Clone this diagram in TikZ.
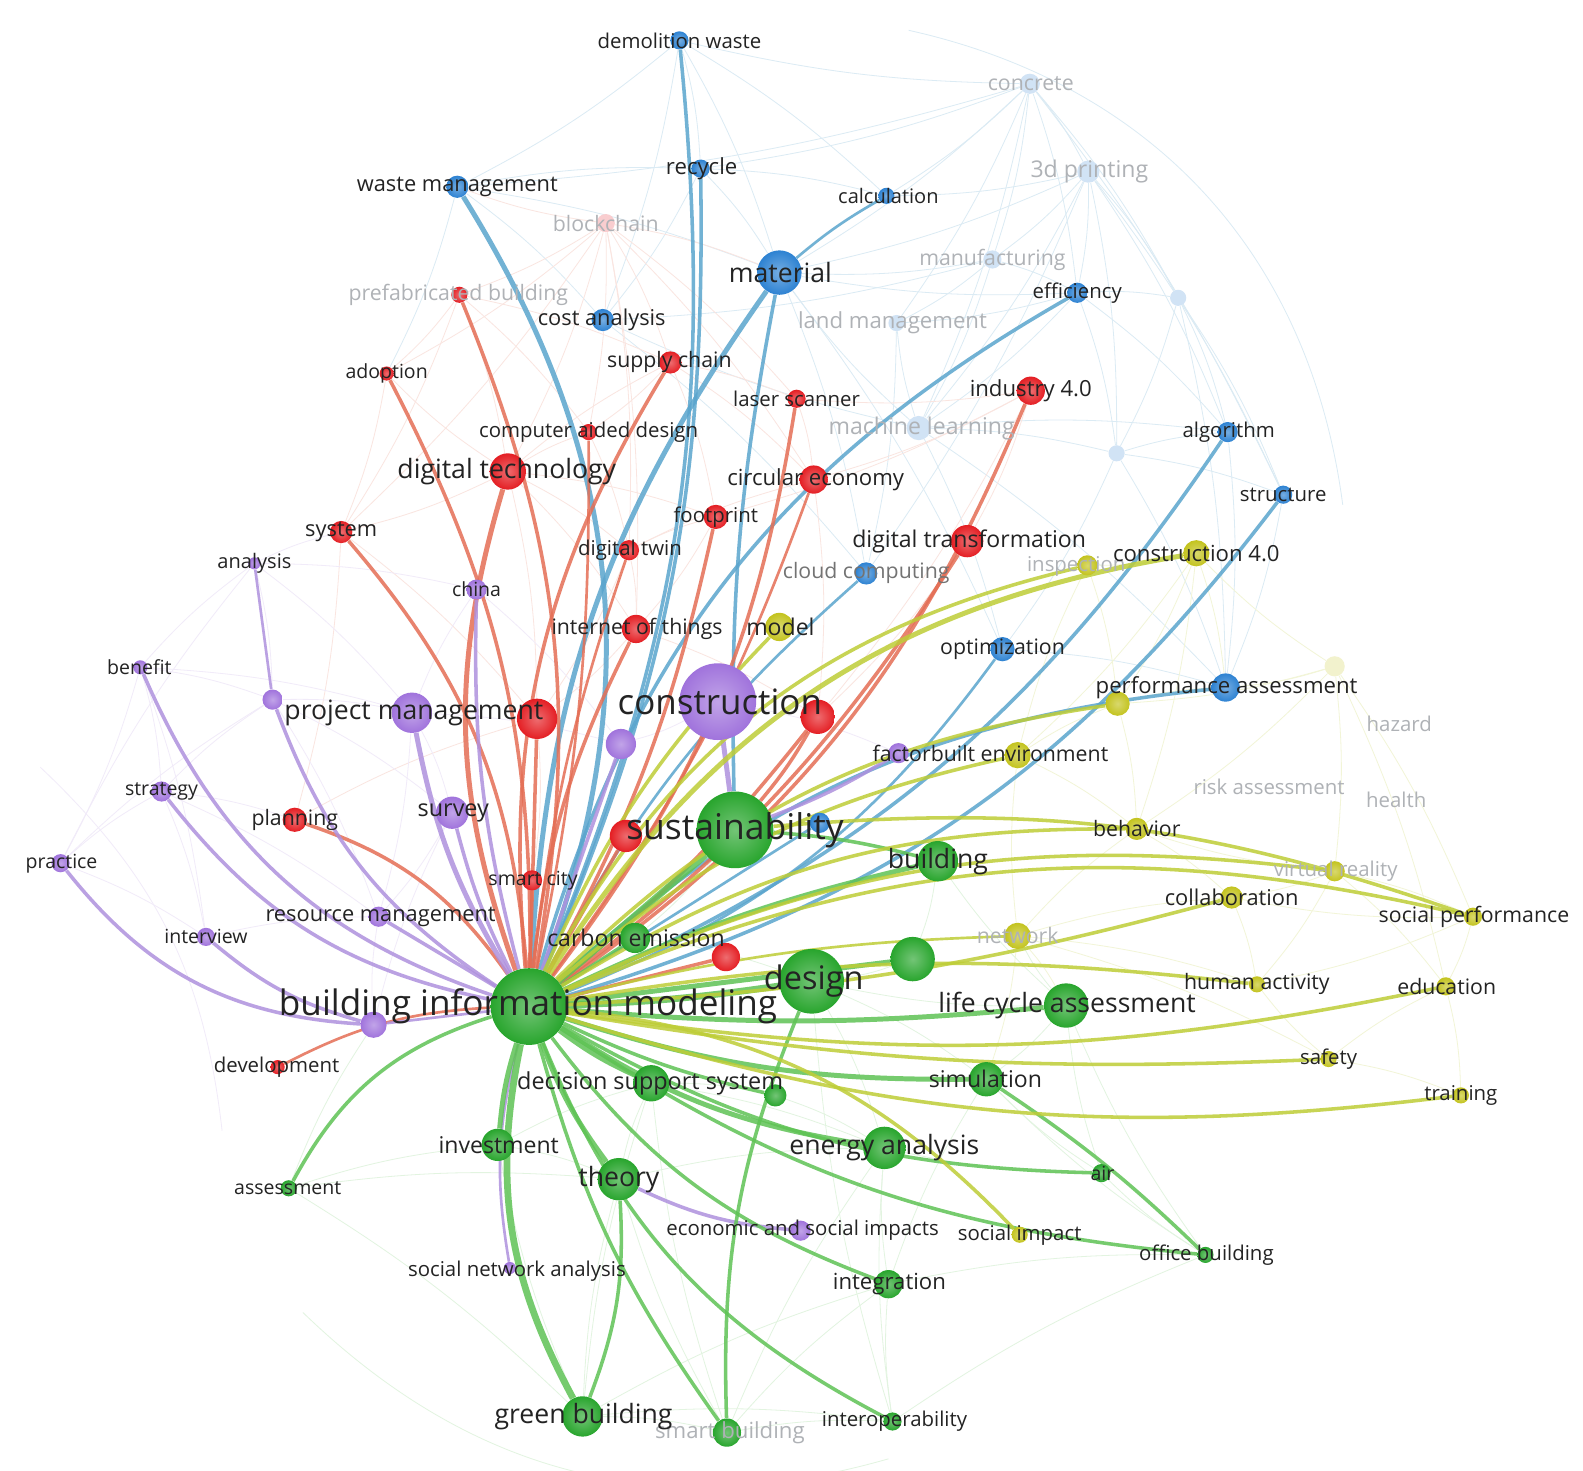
\documentclass[tikz,border=0pt]{standalone}
\usepackage{fontspec}
\setmainfont{Open Sans}
\pgfdeclarelayer{faint}\pgfdeclarelayer{bg}\pgfsetlayers{faint,bg,main}
\definecolor{cB}{RGB}{45,130,210}
\definecolor{cR}{RGB}{228,30,35}
\definecolor{cG}{RGB}{40,165,45}
\definecolor{cP}{RGB}{160,115,220}
\definecolor{cY}{RGB}{195,195,30}
\definecolor{lB}{RGB}{90,165,205}
\definecolor{lR}{RGB}{228,110,85}
\definecolor{lG}{RGB}{95,195,85}
\definecolor{lP}{RGB}{175,145,222}
\definecolor{lY}{RGB}{190,205,55}
\definecolor{txt}{RGB}{35,35,35}
\definecolor{fadetxt}{RGB}{175,178,182}
\tikzset{
  kdot/.style 2 args={circle,inner sep=0pt,minimum size={#1*0.04cm},shading=radial,inner color=#2!65!white,outer color=#2},
  kfade/.style 2 args={circle,inner sep=0pt,minimum size={#1*0.04cm},fill=#2!22!white},
  lab/.style={inner sep=0pt,text=txt},
  faded/.style={text=fadetxt},
  fB/.style={draw=lB!22!white,line width=0.45pt},
  fR/.style={draw=lR!18!white,line width=0.45pt},
  fP/.style={draw=lP!18!white,line width=0.45pt},
  fY/.style={draw=lY!20!white,line width=0.45pt},
  fG/.style={draw=lG!18!white,line width=0.45pt},
  eB/.style={draw=lB,opacity=0.85},
  eR/.style={draw=lR,opacity=0.85},
  eG/.style={draw=lG,opacity=0.85},
  eY/.style={draw=lY,opacity=0.85},
  eP/.style={draw=lP,opacity=0.85},
}
\newcommand\kd[5]{\node[kdot={#4}{#5}] (#1) at (#2,#3) {};}
\newcommand\kf[5]{\node[kfade={#4}{#5}] (#1) at (#2,#3) {};}
\newcommand\kl[6]{\node[lab,font=\fontsize{#4}{#4}\selectfont,#5] (#1-l) at (#2,#3) {#6};}
\newcommand\E[5]{\draw[#1,line width=#2] (#3) to[#5] (#4);}
\begin{document}
\begin{tikzpicture}[x=0.02cm,y=-0.02cm]
\begin{pgfonlayer}{faint}
\fill[white] (0,0) rectangle (1568,1457);
\end{pgfonlayer}
\useasboundingbox (0,0) rectangle (1568,1457);
% ---------------- dots: blue
\kd{dw}{673}{40}{9}{cB}
\kd{rec}{694}{167}{9}{cB}
\kd{wm}{453}{185}{11}{cB}
\kd{calc}{878}{194}{8}{cB}
\kd{mat}{772}{270}{22}{cB}
\kd{cost}{597}{317}{11}{cB}
\kd{eff}{1067}{290}{10}{cB}
\kd{alg}{1216}{428}{10}{cB}
\kd{str}{1271}{490}{9}{cB}
\kd{cloud}{858}{568}{11}{cB}
\kd{opt}{993}{643}{12}{cB}
\kd{pa}{1214}{681}{14}{cB}
\kd{bl1}{812}{815}{10}{cB}
\kf{conc}{1020}{83}{10}{cB}
\kf{tdp}{1078}{170}{11}{cB}
\kf{manu}{983}{257}{9}{cB}
\kf{land}{888}{320}{8}{cB}
\kf{ml}{910}{424}{12}{cB}
\kf{fb1}{1167}{295}{8}{cB}
\kf{fb2}{1106}{449}{8}{cB}
% red
\kf{blk}{600}{221}{9}{cR}
\kd{pref}{455}{292}{8}{cR}
\kd{sup}{664}{359}{11}{cR}
\kd{adop}{383}{370}{7}{cR}
\kd{laser}{789}{395}{9}{cR}
\kd{cad}{583}{428}{8}{cR}
\kd{ind}{1021}{387}{14}{cR}
\kd{dt}{503}{467}{18}{cR}
\kd{ce}{806}{475}{14}{cR}
\kd{fp}{709}{512}{12}{cR}
\kd{sys}{338}{527}{11}{cR}
\kd{twin}{623}{545}{10}{cR}
\kd{dtr}{958}{536}{16}{cR}
\kd{iot}{630}{623}{14}{cR}
\kd{r1}{532}{712}{20}{cR}
\kd{r2}{810}{710}{17}{cR}
\kd{r3}{620}{828}{16}{cR}
\kd{city}{527}{872}{10}{cR}
\kd{r4}{719}{948}{14}{cR}
\kd{plan}{292}{812}{12}{cR}
\kd{dev}{275}{1057}{7}{cR}
% purple
\kd{ana}{252}{558}{6}{cP}
\kd{china}{472}{584}{10}{cP}
\kd{ben}{139}{661}{7}{cP}
\kd{p1}{270}{693}{10}{cP}
\kd{pm}{408}{706}{20}{cP}
\kd{cons}{711}{695}{38}{cP}
\kd{p2}{615}{737}{15}{cP}
\kd{fac}{890}{746}{10}{cP}
\kd{strat}{160}{784}{10}{cP}
\kd{surv}{448}{805}{16}{cP}
\kd{prac}{60}{855}{9}{cP}
\kd{intv}{204}{928}{9}{cP}
\kd{rm}{375}{908}{10}{cP}
\kd{p3}{370}{1015}{13}{cP}
\kd{esi}{793}{1219}{10}{cP}
\kd{sna}{505}{1256}{6}{cP}
% green
\kd{sust}{728}{822}{38}{cG}
\kd{bldg}{929}{853}{20}{cG}
\kd{carb}{629}{929}{15}{cG}
\kd{g1}{904}{950}{22}{cG}
\kd{des}{804}{972}{32}{cG}
\kd{bim}{524}{997}{38}{cG}
\kd{lca}{1056}{996}{22}{cG}
\kd{dss}{645}{1073}{18}{cG}
\kd{g2}{768}{1085}{11}{cG}
\kd{sim}{977}{1069}{17}{cG}
\kd{inv}{493}{1134}{16}{cG}
\kd{ea}{876}{1137}{21}{cG}
\kd{thy}{613}{1168}{21}{cG}
\kd{air}{1091}{1162}{9}{cG}
\kd{asmt}{286}{1177}{8}{cG}
\kd{integ}{880}{1272}{14}{cG}
\kd{office}{1194}{1243}{8}{cG}
\kd{gb}{577}{1403}{20}{cG}
\kd{sb}{720}{1419}{14}{cG}
\kd{interop}{884}{1408}{9}{cG}
% yellow
\kd{insp}{1077}{560}{10}{cY}
\kd{c40}{1185}{548}{13}{cY}
\kd{model}{772}{621}{14}{cY}
\kf{y1}{1322}{660}{10}{cY}
\kd{y2}{1107}{697}{12}{cY}
\kd{y3}{1008}{748}{13}{cY}
\kd{beh}{1126}{821}{11}{cY}
\kd{vr}{1322}{863}{10}{cY}
\kd{collab}{1220}{889}{11}{cY}
\kd{sp}{1459}{908}{9}{cY}
\kd{net}{1008}{927}{13}{cY}
\kd{ha}{1245}{975}{8}{cY}
\kd{edu}{1432}{977}{9}{cY}
\kd{safe}{1316}{1049}{8}{cY}
\kd{train}{1447}{1085}{8}{cY}
\kd{si}{1010}{1223}{8}{cY}
% ---------------- faint background links
\begin{pgfonlayer}{faint}
\foreach \a/\b in {conc/dw,conc/rec,conc/mat,conc/calc,conc/tdp,conc/manu,conc/eff,conc/land,conc/wm,conc/ml,conc/fb1,conc/str,
  tdp/eff,tdp/manu,tdp/fb1,tdp/alg,tdp/ml,tdp/mat,tdp/calc,tdp/str,tdp/fb2,tdp/cloud,
  manu/mat,manu/land,manu/eff,manu/ml,manu/cost,eff/fb1,eff/mat,eff/land,eff/ml,eff/fb2,eff/alg,
  fb1/alg,fb1/str,fb1/fb2,fb1/pa,ml/mat,ml/cost,ml/land,ml/alg,ml/fb2,ml/opt,ml/pa,
  dw/wm,dw/rec,dw/mat,dw/cost,dw/calc,wm/rec,wm/cost,wm/mat,wm/adop,fb2/alg,fb2/str,fb2/opt,fb2/pa,
  rec/mat,rec/cost,rec/calc,mat/cloud,mat/opt,cost/cloud,alg/pa,str/pa,opt/pa,land/cloud}
  {\draw[fB] (\a) to[bend left=6] (\b);}
\foreach \a/\b in {blk/pref,blk/sup,blk/cad,blk/dt,blk/wm,blk/mat,blk/laser,blk/ce,blk/twin,blk/iot,blk/adop,blk/sys,
  pref/adop,pref/dt,pref/cad,pref/sys,pref/sup,dt/sys,dt/cad,dt/twin,dt/iot,dt/fp,dt/r1,dt/adop,dt/sup,
  sup/laser,sup/ce,sup/fp,sup/cad,ind/dtr,ind/ce,ind/laser,ind/r2,ind/fp,twin/iot,twin/fp,twin/ce,twin/r1,
  sys/r1,sys/plan,adop/sys,iot/r1,iot/r2,ce/r2,fp/iot,cad/twin,laser/ce,dtr/r2,plan/r1,r1/city}
  {\draw[fR] (\a) to[bend left=6] (\b);}
\foreach \a/\b in {ben/prac,ben/strat,ben/p1,ben/pm,ben/ana,ben/intv,prac/strat,prac/intv,prac/p1,prac/ana,
  ana/p1,ana/pm,ana/china,ana/sys,strat/p1,strat/plan,strat/intv,strat/rm,p1/pm,p1/surv,p1/rm,
  pm/china,pm/surv,pm/rm,pm/p2,surv/rm,intv/rm,p3/rm,p3/surv,cons/p2,cons/fac,china/p2}
  {\draw[fP] (\a) to[bend left=6] (\b);}
\foreach \a/\b in {y1/c40,y1/pa,y1/vr,y1/sp,y1/edu,y1/beh,y1/y2,c40/insp,c40/y2,c40/y3,c40/pa,c40/beh,
  vr/sp,vr/collab,vr/ha,vr/beh,vr/edu,sp/edu,sp/ha,sp/collab,net/collab,net/ha,net/beh,net/y3,net/lca,net/sim,net/safe,
  safe/edu,safe/train,safe/ha,y3/beh,y3/y2,y3/insp,y2/pa,y2/beh,collab/ha,edu/train,beh/collab,insp/y2}
  {\draw[fY] (\a) to[bend left=6] (\b);}
\foreach \a/\b in {gb/sb,gb/interop,gb/thy,gb/inv,gb/dss,gb/integ,sb/interop,sb/integ,sb/thy,sb/ea,sb/dss,
  interop/integ,interop/ea,interop/office,interop/des,integ/ea,integ/office,integ/sim,office/air,office/sim,office/lca,
  air/ea,air/sim,air/lca,lca/sim,lca/des,lca/bldg,lca/net,asmt/inv,asmt/gb,asmt/thy,asmt/p3,inv/thy,inv/dss,thy/dss,
  thy/ea,dss/ea,g2/ea,des/sim,des/ea,bldg/g1,g1/des,sust/bldg,sust/carb,carb/des,dss/g2}
  {\draw[fG] (\a) to[bend left=6] (\b);}
\draw[fB] (900,30) to[bend left=35] (1330,500);
\draw[fG] (300,1300) to[bend right=30] (880,1445);
\draw[fP] (40,760) to[bend left=20] (220,1120);
\end{pgfonlayer}
% ---------------- coloured links
\begin{pgfonlayer}{bg}
% blue
\E{eB}{2.8pt}{bim}{mat}{bend left=16}
\E{eB}{2pt}{sust}{mat}{bend left=6}
\E{eB}{2pt}{bim}{dw}{bend right=14}
\E{eB}{2pt}{bim}{rec}{bend right=12}
\E{eB}{2.8pt}{bim}{wm}{bend right=26}
\E{eB}{1.5pt}{mat}{calc}{bend left=5}
\E{eB}{2pt}{bim}{eff}{bend left=22}
\E{eB}{2pt}{bim}{alg}{bend right=16}
\E{eB}{2pt}{bim}{str}{bend right=18}
\E{eB}{2pt}{bim}{pa}{bend left=18}
\E{eB}{1.5pt}{bim}{opt}{bend right=16}
\E{eB}{1.5pt}{bim}{cloud}{bend left=10}
\E{eB}{1.5pt}{bim}{bl1}{}
% red
\E{eR}{2pt}{bim}{pref}{bend right=16}
\E{eR}{2pt}{bim}{adop}{bend right=14}
\E{eR}{2pt}{bim}{sup}{bend left=18}
\E{eR}{2.8pt}{bim}{dt}{bend left=18}
\E{eR}{2pt}{bim}{sys}{bend right=18}
\E{eR}{2pt}{bim}{laser}{bend right=14}
\E{eR}{2pt}{bim}{ind}{bend right=16}
\E{eR}{2pt}{bim}{dtr}{bend right=10}
\E{eR}{1.5pt}{bim}{ce}{bend right=8}
\E{eR}{2pt}{bim}{fp}{bend right=8}
\E{eR}{2pt}{bim}{iot}{bend left=10}
\E{eR}{1.5pt}{bim}{twin}{bend left=6}
\E{eR}{1.5pt}{bim}{cad}{bend right=6}
\E{eR}{2pt}{bim}{r1}{}
\E{eR}{2pt}{bim}{r2}{bend right=6}
\E{eR}{2pt}{bim}{r3}{}
\E{eR}{1.5pt}{bim}{city}{}
\E{eR}{2pt}{bim}{r4}{}
\E{eR}{2pt}{bim}{plan}{bend right=18}
\E{eR}{1.5pt}{bim}{dev}{bend right=12}
\E{eR}{2pt}{sust}{r2}{bend right=5}
% purple
\E{eP}{1.5pt}{ana}{p1}{}
\E{eP}{2pt}{bim}{p1}{bend left=18}
\E{eP}{2pt}{bim}{ben}{bend left=24}
\E{eP}{2pt}{bim}{strat}{bend left=20}
\E{eP}{2pt}{p3}{prac}{bend left=24}
\E{eP}{2pt}{p3}{intv}{bend left=12}
\E{eP}{2.8pt}{bim}{pm}{bend left=10}
\E{eP}{2pt}{bim}{china}{bend left=8}
\E{eP}{2pt}{bim}{surv}{bend left=6}
\E{eP}{2pt}{bim}{rm}{}
\E{eP}{2pt}{bim}{p2}{}
\E{eP}{2.8pt}{sust}{cons}{}
\E{eP}{2pt}{sust}{fac}{bend right=5}
\E{eP}{2pt}{thy}{esi}{bend right=10}
\E{eP}{1.5pt}{bim}{sna}{bend right=12}
\E{eP}{1.5pt}{bim}{p3}{}
% green
\E{eG}{3.8pt}{bim}{sust}{}
\E{eG}{3.8pt}{bim}{des}{bend right=3}
\E{eG}{2.8pt}{bim}{bldg}{bend left=6}
\E{eG}{2pt}{bim}{carb}{}
\E{eG}{2.8pt}{bim}{g1}{}
\E{eG}{2.8pt}{bim}{lca}{bend right=5}
\E{eG}{2.8pt}{bim}{dss}{bend right=6}
\E{eG}{2pt}{bim}{g2}{bend right=6}
\E{eG}{2.8pt}{bim}{sim}{bend right=9}
\E{eG}{2.8pt}{bim}{ea}{bend right=12}
\E{eG}{2.8pt}{bim}{inv}{bend right=6}
\E{eG}{2.8pt}{bim}{thy}{bend right=8}
\E{eG}{2pt}{bim}{air}{bend right=14}
\E{eG}{2pt}{bim}{asmt}{bend right=22}
\E{eG}{2pt}{bim}{integ}{bend right=16}
\E{eG}{2pt}{bim}{office}{bend right=14}
\E{eG}{3.8pt}{bim}{gb}{bend right=20}
\E{eG}{2pt}{bim}{sb}{bend right=10}
\E{eG}{2pt}{bim}{interop}{bend right=20}
\E{eG}{2pt}{thy}{gb}{bend left=12}
\E{eG}{2pt}{des}{sb}{bend right=12}
\E{eG}{2pt}{sim}{office}{bend left=5}
\E{eG}{2pt}{sust}{bldg}{bend left=5}
% yellow
\E{eY}{2.8pt}{bim}{c40}{bend left=24}
\E{eY}{2pt}{bim}{insp}{bend left=24}
\E{eY}{2pt}{bim}{model}{bend left=10}
\E{eY}{2pt}{bim}{y2}{bend left=18}
\E{eY}{2pt}{bim}{y3}{bend left=14}
\E{eY}{2pt}{bim}{beh}{bend left=16}
\E{eY}{2pt}{bim}{vr}{bend left=16}
\E{eY}{2pt}{bim}{sp}{bend left=18}
\E{eY}{2pt}{sust}{sp}{bend left=12}
\E{eY}{2pt}{bim}{collab}{bend right=6}
\E{eY}{1.5pt}{bim}{net}{bend left=6}
\E{eY}{2pt}{bim}{ha}{bend left=8}
\E{eY}{2pt}{bim}{edu}{bend right=10}
\E{eY}{2pt}{bim}{safe}{bend right=6}
\E{eY}{2pt}{bim}{train}{bend right=12}
\E{eY}{2pt}{bim}{si}{bend left=20}
\end{pgfonlayer}
% ---------------- labels
% faded
\kl{conc}{1021}{83}{12}{faded}{concrete}
\kl{tdp}{1079}{170}{13}{faded}{3d printing}
\kl{manu}{983}{257}{12}{faded}{manufacturing}
\kl{land}{884}{320}{12.5}{faded}{land management}
\kl{ml}{913}{424}{13}{faded}{machine learning}
\kl{blk}{600}{221}{12}{faded}{blockchain}
\kl{pref}{454}{292}{12}{faded}{prefabricated building}
\kl{sb}{723}{1419}{12.5}{faded}{smart building}
\kl{insp}{1066}{561}{11.5}{faded}{inspection}
\kl{hazard}{1386}{717}{11.5}{faded}{hazard}
\kl{risk}{1257}{779}{11.5}{faded}{risk assessment}
\kl{health}{1383}{792}{11.5}{faded}{health}
\kl{vr}{1323}{863}{11.5}{faded}{virtual reality}
\kl{net}{1008}{927}{12}{faded}{network}
% blue
\kl{dw}{673}{40}{11.5}{}{demolition waste}
\kl{rec}{695}{167}{12.5}{}{recycle}
\kl{wm}{453}{185}{12.3}{}{waste management}
\kl{calc}{880}{194}{11.3}{}{calculation}
\kl{mat}{773}{270}{15}{}{material}
\kl{cost}{596}{317}{12.3}{}{cost analysis}
\kl{eff}{1067}{290}{11.5}{}{efficiency}
\kl{alg}{1217}{428}{11.5}{}{algorithm}
\kl{str}{1271}{490}{11.5}{}{structure}
\kl{cloud}{858}{568}{12}{text=black!55}{cloud computing}
\kl{opt}{993}{643}{12}{}{optimization}
\kl{pa}{1215}{681}{12.5}{}{performance assessment}
% red
\kl{sup}{663}{359}{12}{}{supply chain}
\kl{adop}{383}{370}{11}{}{adoption}
\kl{laser}{789}{395}{11.5}{}{laser scanner}
\kl{cad}{583}{428}{11.5}{}{computer aided design}
\kl{ind}{1021}{387}{12.5}{}{industry 4.0}
\kl{dt}{502}{467}{15}{}{digital technology}
\kl{ce}{808}{475}{12.5}{}{circular economy}
\kl{fp}{709}{512}{11.5}{}{footprint}
\kl{sys}{338}{527}{12.3}{}{system}
\kl{twin}{624}{545}{11.5}{}{digital twin}
\kl{dtr}{960}{536}{13}{}{digital transformation}
\kl{iot}{631}{623}{12}{}{internet of things}
\kl{city}{528}{872}{11}{}{smart city}
\kl{plan}{292}{812}{12}{}{planning}
\kl{dev}{274}{1057}{11.5}{}{development}
% purple
\kl{ana}{252}{558}{11.3}{}{analysis}
\kl{china}{472}{584}{11}{}{china}
\kl{ben}{138}{661}{11}{}{benefit}
\kl{pm}{410}{706}{15}{}{project management}
\kl{cons}{713}{695}{19.7}{}{construction}
\kl{fac}{981}{746}{12}{}{factorbuilt environment}
\kl{strat}{160}{784}{11}{}{strategy}
\kl{surv}{449}{805}{13.2}{}{survey}
\kl{prac}{61}{855}{11}{}{practice}
\kl{intv}{204}{928}{11}{}{interview}
\kl{rm}{377}{908}{12.3}{}{resource management}
\kl{esi}{795}{1219}{11.5}{}{economic and social impacts}
\kl{sna}{512}{1259}{11.5}{}{social network analysis}
% green
\kl{sust}{728}{822}{20}{}{sustainability}
\kl{bldg}{929}{853}{15}{}{building}
\kl{carb}{630}{929}{13}{}{carbon emission}
\kl{des}{806}{972}{18.3}{}{design}
\kl{bim}{523}{997}{19.8}{}{building information modeling}
\kl{lca}{1057}{996}{15}{}{life cycle assessment}
\kl{dss}{644}{1073}{13.2}{}{decision support system}
\kl{sim}{976}{1069}{13}{}{simulation}
\kl{inv}{494}{1134}{13}{}{investment}
\kl{ea}{876}{1137}{15}{}{energy analysis}
\kl{thy}{613}{1168}{15}{}{theory}
\kl{air}{1092}{1162}{11}{}{air}
\kl{asmt}{285}{1177}{11}{}{assessment}
\kl{integ}{881}{1272}{12.5}{}{integration}
\kl{office}{1195}{1243}{11.5}{}{office building}
\kl{gb}{578}{1403}{15}{}{green building}
\kl{interop}{886}{1408}{11.5}{}{interoperability}
% yellow
\kl{c40}{1185}{548}{12.5}{}{construction 4.0}
\kl{model}{773}{621}{13}{}{model}
\kl{beh}{1126}{821}{12}{}{behavior}
\kl{collab}{1220}{889}{12.3}{}{collaboration}
\kl{sp}{1460}{908}{12}{}{social performance}
\kl{ha}{1245}{975}{12}{}{human activity}
\kl{edu}{1433}{977}{12}{}{education}
\kl{safe}{1316}{1049}{11.5}{}{safety}
\kl{train}{1447}{1085}{11.5}{}{training}
\kl{si}{1010}{1223}{11.5}{}{social impact}
\end{tikzpicture}
\end{document}
